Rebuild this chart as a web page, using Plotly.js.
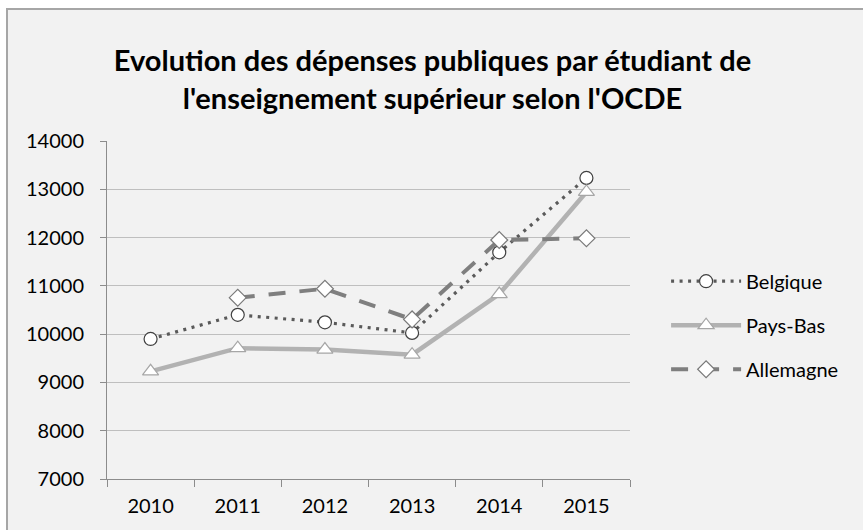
<!DOCTYPE html>
<html>
<head>
<meta charset="utf-8">
<script src="https://cdn.plot.ly/plotly-3.0.1.min.js"></script>
<style>
html,body{margin:0;padding:0;background:#ffffff;width:863px;height:530px;overflow:hidden;}
#frame{position:absolute;left:6px;top:8px;width:857px;height:522px;border-left:2px solid #a6a6a6;border-top:2px solid #a6a6a6;background:#f2f2f2;}
#chart{position:absolute;left:0;top:0;width:857px;height:522px;}
</style>
</head>
<body>
<div id="frame"><div id="chart"></div></div>
<script>
var years = ['2010','2011','2012','2013','2014','2015'];
var belgique = [9900, 10400, 10245, 10025, 11695, 13235];
var paysBas = [9230, 9710, 9680, 9575, 10830, 12945];
var allemagne = [null, 10755, 10940, 10305, 11950, 11985];
var yTicks = [7000, 8000, 9000, 10000, 11000, 12000, 13000, 14000];
var yTickText = ['7000', '8000', '9000', '10000', '11000', '12000', '13000', '14000'];

var FONT = 'Lato, "Noto Sans", sans-serif';

var traces = [
  {x: years, y: belgique, name: 'Belgique', type: 'scatter', mode: 'lines+markers', legendgroup: 'a',
   line: {color: '#5a5a5a', width: 3.2, dash: '3px,5.5px'},
   marker: {symbol: 'circle', size: 13, color: '#ffffff', line: {color: '#404040', width: 1.2}}},
  {x: years, y: paysBas, name: 'Pays-Bas', type: 'scatter', mode: 'lines+markers', legendgroup: 'b',
   line: {color: '#b2b2b2', width: 4.5},
   marker: {symbol: 'triangle-up', size: 14, color: '#ffffff', line: {color: '#a6a6a6', width: 1.2}}},
  {x: years, y: allemagne, name: 'Allemagne', type: 'scatter', mode: 'lines+markers', legendgroup: 'c',
   line: {color: '#7f7f7f', width: 4, dash: '17px,14px'},
   marker: {symbol: 'diamond', size: 13, color: '#ffffff', line: {color: '#7a7a7a', width: 1.2}}}
];

var layout = {
  width: 857, height: 522,
  margin: {l: 99, r: 235, t: 131, b: 53},
  paper_bgcolor: 'rgba(0,0,0,0)',
  plot_bgcolor: 'rgba(0,0,0,0)',
  font: {family: FONT, color: '#000000', size: 20},
  title: {text: "Evolution des dépenses publiques par étudiant de<br>l'enseignement supérieur selon l'OCDE",
          font: {family: FONT, size: 29, color: '#000000', weight: 'bold'},
          x: 0.4953, xref: 'container', y: 0.8824, yref: 'container', yanchor: 'top'},
  xaxis: {type: 'category', range: [-0.5, 5.5], showgrid: false, showline: true, linecolor: '#8c8c8c', linewidth: 1,
          ticks: 'outside', tickson: 'boundaries', ticklen: 7, tickcolor: '#8c8c8c', tickfont: {size: 20},
          ticklabelstandoff: 9, zeroline: false, fixedrange: true},
  yaxis: {range: [7000, 14000], tickvals: yTicks, ticktext: yTickText, showgrid: true, gridcolor: '#bfbfbf', gridwidth: 1,
          showline: true, linecolor: '#8c8c8c', linewidth: 1, ticks: 'outside', ticklen: 6, tickcolor: '#8c8c8c',
          tickfont: {size: 20}, ticklabelstandoff: 12, zeroline: false, fixedrange: true},
  showlegend: true,
  legend: {x: 1.069, xanchor: 'left', y: 0.455, yanchor: 'middle', bgcolor: 'rgba(0,0,0,0)', font: {size: 20},
           traceorder: 'grouped', tracegroupgap: 15, itemwidth: 70}
};

Plotly.newPlot('chart', traces, layout, {displayModeBar: false, staticPlot: true});
</script>
</body>
</html>
